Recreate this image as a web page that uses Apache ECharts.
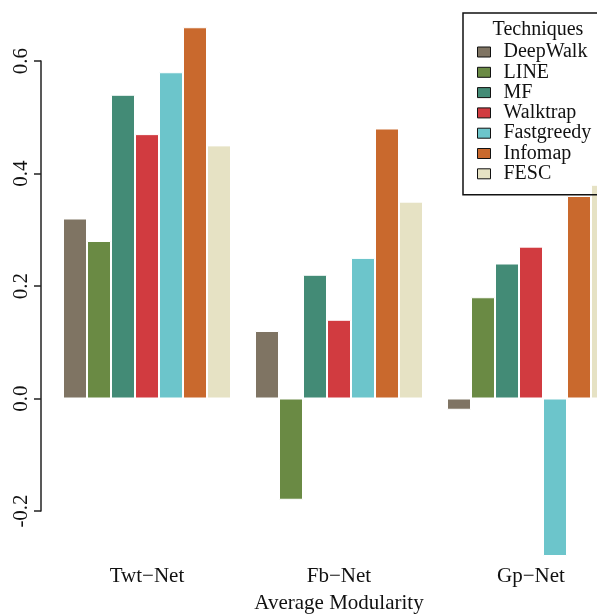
<!DOCTYPE html>
<html>
<head>
<meta charset="utf-8">
<script src="https://cdn.jsdelivr.net/npm/echarts@6/dist/echarts.min.js"></script>
<style>html,body{margin:0;padding:0;background:#fff}#c{width:597px;height:615px}</style>
</head>
<body>
<div id="c"></div>
<script>
const categories = ['Twt\u2212Net', 'Fb\u2212Net', 'Gp\u2212Net'];
const techniques = ['DeepWalk', 'LINE', 'MF', 'Walktrap', 'Fastgreedy', 'Infomap', 'FESC'];
const deepWalk   = [0.32, 0.12, -0.02];
const line       = [0.28, -0.18, 0.18];
const mf         = [0.54, 0.22, 0.24];
const walktrap   = [0.47, 0.14, 0.27];
const fastgreedy = [0.58, 0.25, -0.28];
const infomap    = [0.66, 0.48, 0.36];
const fesc       = [0.45, 0.35, 0.38];
const yTicks = [-0.2, 0.0, 0.2, 0.4, 0.6];
const colors = ['#7f7463', '#6a8a44', '#438b76', '#d13b40', '#6cc5cb', '#c9692d', '#e6e2c4'];
const values = [deepWalk, line, mf, walktrap, fastgreedy, infomap, fesc];

const font = "'Liberation Serif', 'DejaVu Serif', serif";
const chart = echarts.init(document.getElementById('c'), null, {renderer: 'canvas'});
chart.setOption({
  animation: false,
  backgroundColor: '#fff',
  textStyle: {fontFamily: font, color: '#111'},
  title: {
    text: 'Techniques', left: 533, top: 15, textAlign: 'center',
    textStyle: {fontFamily: font, fontSize: 20, fontWeight: 'normal', color: '#111'}
  },
  legend: {
    orient: 'vertical', left: 463, top: 13,
    padding: [29, 30, 11, 14],
    borderColor: '#111', borderWidth: 1.5,
    icon: 'rect', itemWidth: 13, itemHeight: 10, itemGap: 0.3,
    itemStyle: {borderColor: '#111', borderWidth: 1},
    textStyle: {fontFamily: font, fontSize: 20, lineHeight: 20, color: '#111', padding: [0, 0, 0, 8]},
    data: techniques
  },
  grid: {left: 51, top: 61, width: 576, height: 450, outerBoundsMode: 'none', containLabel: false},
  xAxis: {
    type: 'category', data: categories,
    axisLine: {show: false}, axisTick: {show: false},
    axisLabel: {margin: 55, fontFamily: font, fontSize: 21, color: '#111'},
    name: 'Average Modularity', nameLocation: 'middle', nameGap: 82,
    nameTextStyle: {fontFamily: font, fontSize: 21, color: '#111'}
  },
  yAxis: {
    type: 'value', min: -0.2, max: 0.6, interval: 0.2, offset: 10,
    axisLine: {show: true, lineStyle: {color: '#222', width: 1.5}},
    axisTick: {show: true, length: 7, lineStyle: {color: '#222', width: 1.5}},
    splitLine: {show: false},
    axisLabel: {
      rotate: 90, margin: 9, fontFamily: font, fontSize: 21, color: '#111',
      customValues: yTicks,
      formatter: v => v.toFixed(1)
    }
  },
  series: techniques.map((name, i) => ({
    name, type: 'bar', data: values[i], barWidth: 24, barGap: '0%', clip: false,
    itemStyle: {color: colors[i], borderColor: '#ffffff', borderWidth: 1}
  }))
});
</script>
</body>
</html>
